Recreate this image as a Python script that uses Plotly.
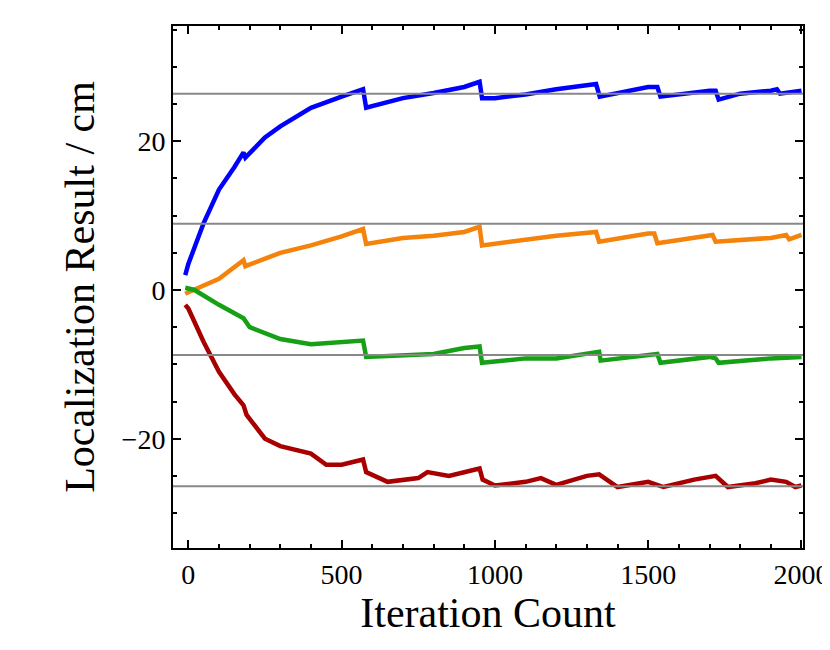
import plotly.graph_objects as go

blue_x = [-10,0,50,100,150,180,186,250,300,400,500,570,580,700,800,900,950,958,1000,1100,1200,1330,1342,1500,1530,1540,1700,1720,1730,1800,1900,1920,1930,2000]
blue_y = [2,3.5,9,13.5,16.5,18.5,17.8,20.5,22,24.5,26,27,24.5,25.8,26.5,27.3,28,25.8,25.8,26.3,27,27.7,26,27.3,27.3,26,26.8,26.8,25.6,26.4,26.8,27,26.4,26.8]

orange_x = [-10,0,100,180,186,300,400,500,570,580,700,800,900,950,958,1100,1200,1330,1340,1500,1520,1530,1700,1710,1720,1900,1950,1960,2000]
orange_y = [-0.5,-0.3,1.5,4,3.2,5,6,7.2,8.2,6.2,7,7.3,7.8,8.5,6,6.8,7.3,7.8,6.5,7.6,7.6,6.3,7.2,7.4,6.5,7,7.4,6.8,7.4]

green_x = [-10,0,20,100,180,200,300,400,500,570,580,700,800,900,950,958,1100,1200,1300,1340,1345,1500,1530,1540,1700,1720,1730,1900,2000]
green_y = [0.3,0.2,0,-2,-3.8,-5,-6.6,-7.3,-7,-6.8,-9,-8.8,-8.6,-7.8,-7.6,-9.8,-9.2,-9.2,-8.5,-8.3,-9.5,-8.8,-8.6,-9.8,-9,-9.2,-9.8,-9.2,-9]

red_x = [-10,0,50,100,150,180,190,250,300,400,450,500,570,580,650,750,780,850,950,960,1000,1100,1150,1200,1300,1340,1400,1500,1550,1650,1720,1760,1850,1900,1950,1980,2000]
red_y = [-2,-2.5,-7,-11,-14,-15.5,-16.8,-20,-21,-22,-23.5,-23.5,-22.8,-24.5,-25.8,-25.3,-24.5,-25,-24,-25.5,-26.3,-25.8,-25.3,-26.2,-25,-24.8,-26.5,-25.8,-26.5,-25.5,-25,-26.5,-26,-25.5,-25.8,-26.5,-26.3]

ref_levels = [26.4, 8.9, -8.75, -26.4]

fig = go.Figure()
for lv in ref_levels:
    fig.add_hline(y=lv, line=dict(color="#888888", width=2))
for xs, ys, c in [(blue_x, blue_y, "#0000ff"), (orange_x, orange_y, "#f5820a"),
                  (green_x, green_y, "#16a016"), (red_x, red_y, "#a80000")]:
    fig.add_trace(go.Scatter(x=xs, y=ys, mode="lines", line=dict(color=c, width=4.5), showlegend=False))

font = "Liberation Serif, Times New Roman, serif"
axis_common = dict(showgrid=False, zeroline=False, showline=True, linecolor="black", linewidth=2,
                   mirror="ticks", ticks="inside", ticklen=8, tickwidth=2, tickcolor="black",
                   automargin=False,
                   tickfont=dict(family=font, size=28, color="black"),
                   minor=dict(ticks="inside", ticklen=4, tickwidth=1.5, tickcolor="black"))
fig.update_xaxes(range=[-50, 2005], tickvals=[0, 500, 1000, 1500, 2000],
                 minor_dtick=100,
                 title=dict(text="Iteration Count", font=dict(family=font, size=42, color="black"), standoff=8),
                 **axis_common)
fig.update_yaxes(range=[-34.7, 35.5], tickvals=[-20, 0, 20], ticktext=["\u221220", "0", "20"],
                 minor_dtick=5,
                 title=dict(text="Localization Result / cm", font=dict(family=font, size=42, color="black"), standoff=14),
                 **axis_common)
fig.update_layout(width=830, height=650, plot_bgcolor="white", paper_bgcolor="white",
                  margin=dict(l=165, r=35, t=18, b=110))
fig.write_html("out.html")
